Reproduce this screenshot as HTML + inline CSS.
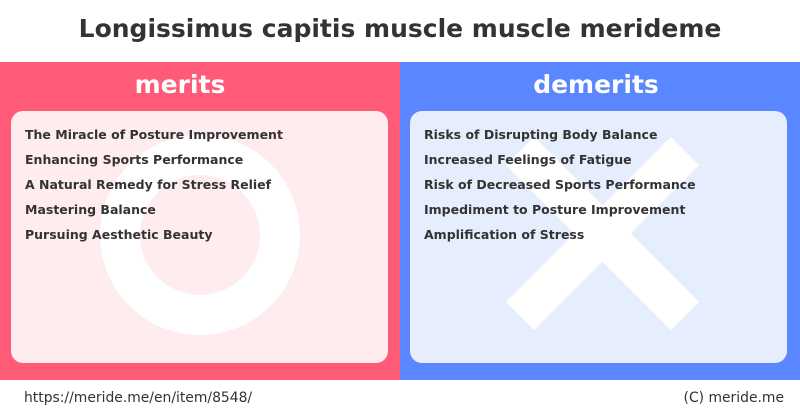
<!DOCTYPE html>
<html><head><meta charset="utf-8"><style>
body{margin:0;width:800px;height:418px;background:#fff;font-family:"DejaVu Sans","Liberation Sans",sans-serif;position:relative;overflow:hidden}
.t{position:absolute;left:0;width:800px;top:14px;text-align:center;font-size:25px;font-weight:bold;color:#333}
.p{position:absolute;top:62px;height:318px;width:400px}
.h{position:absolute;top:70px;width:400px;text-align:center;font-size:25px;font-weight:bold;color:#fff}
.b{position:absolute;top:111px;height:252px;width:377px;border-radius:12px;overflow:hidden}
.l{position:absolute;left:14px;font-size:12.5px;font-weight:bold;color:#333;white-space:nowrap;top:0}
.f{position:absolute;top:390px;font-size:13.9px;color:#333}
</style></head><body>
<div class="t">Longissimus capitis muscle muscle merideme</div>
<div class="p" style="left:0;background:#ff5a78"></div>
<div class="p" style="left:400px;background:#5a87ff"></div>
<div class="h" style="left:-20px">merits</div>
<div class="h" style="left:396px">demerits</div>
<div class="b" style="left:11px;background:#ffecef">
<svg width="377" height="252" style="position:absolute;left:0;top:0"><circle cx="189" cy="124" r="80" fill="none" stroke="#fff" stroke-width="40"/></svg>
<div class="l" style="top:16px">The Miracle of Posture Improvement</div>
<div class="l" style="top:41px">Enhancing Sports Performance</div>
<div class="l" style="top:66px">A Natural Remedy for Stress Relief</div>
<div class="l" style="top:91px">Mastering Balance</div>
<div class="l" style="top:116px">Pursuing Aesthetic Beauty</div>
</div>
<div class="b" style="left:410px;background:#e6edfd">
<svg width="377" height="252" style="position:absolute;left:0;top:0"><g stroke="#fff" stroke-width="40"><line x1="110" y1="40" x2="275" y2="205"/><line x1="275" y1="40" x2="110" y2="205"/></g></svg>
<div class="l" style="top:16px">Risks of Disrupting Body Balance</div>
<div class="l" style="top:41px">Increased Feelings of Fatigue</div>
<div class="l" style="top:66px">Risk of Decreased Sports Performance</div>
<div class="l" style="top:91px">Impediment to Posture Improvement</div>
<div class="l" style="top:116px">Amplification of Stress</div>
</div>
<div class="f" style="left:24px">https://meride.me/en/item/8548/</div>
<div class="f" style="right:16px">(C) meride.me</div>
</body></html>
